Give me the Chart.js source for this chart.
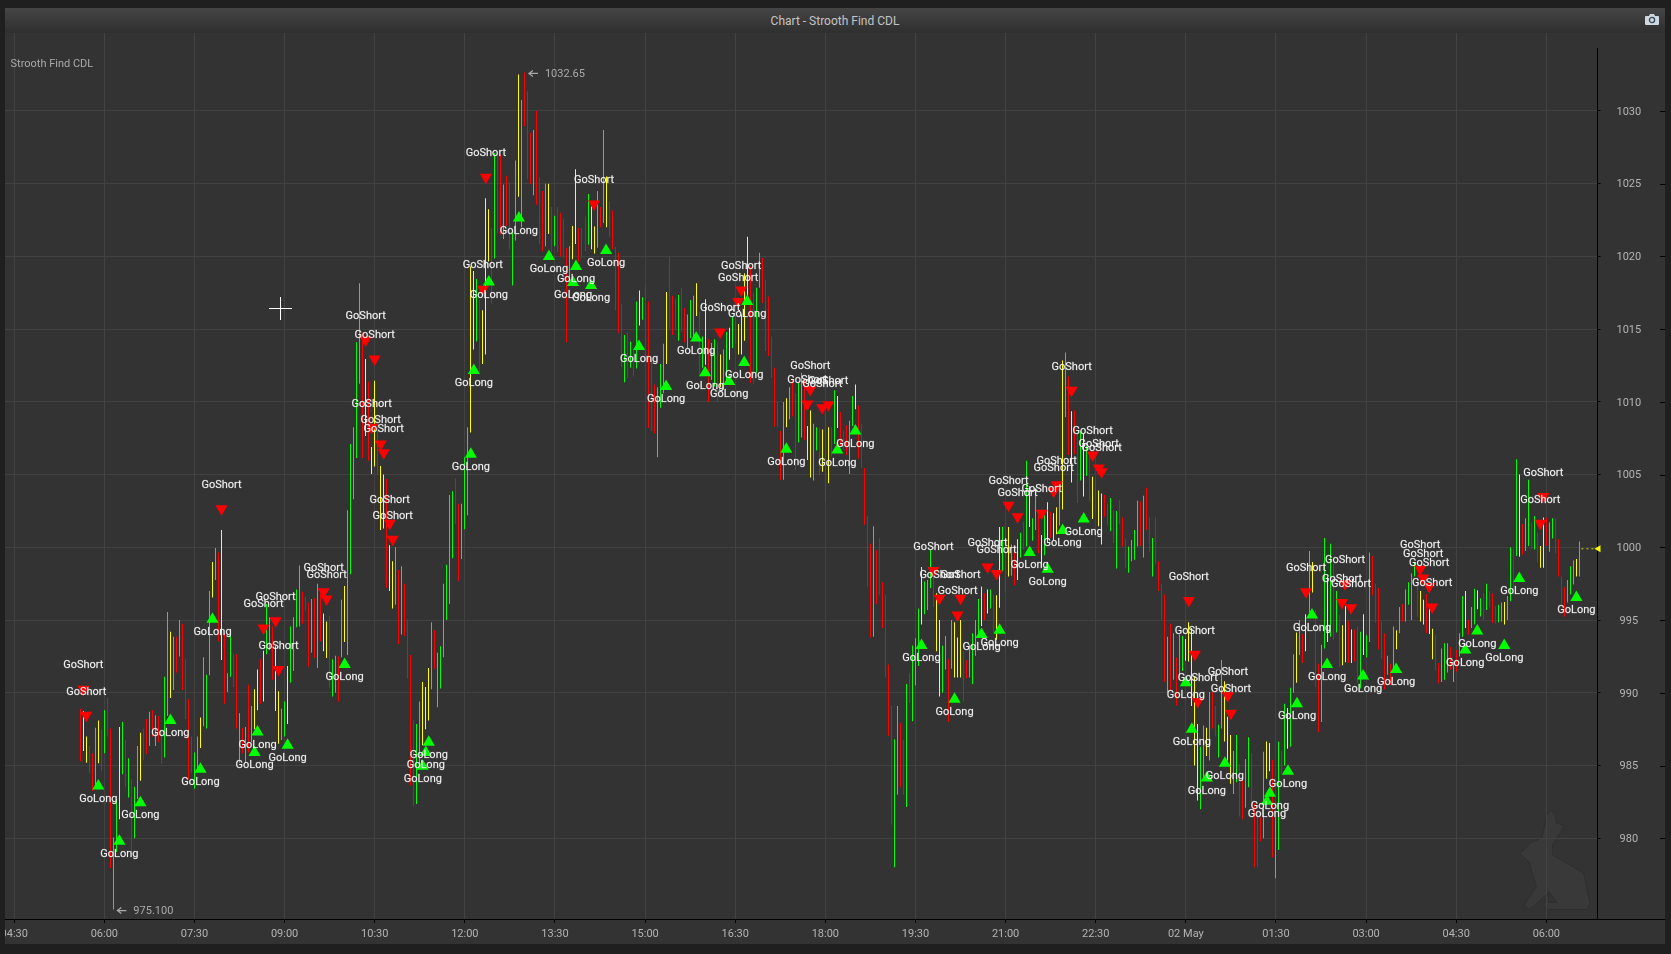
<!DOCTYPE html>
<html>
<head>
<meta charset="utf-8">
<title>Chart - Strooth Find CDL</title>
<script src="https://cdn.jsdelivr.net/npm/chart.js@4/dist/chart.umd.min.js"></script>
<style>
    html, body { margin: 0; padding: 0; background: #1f1f1f; overflow: hidden; }
    #panel { position: absolute; left: 5px; top: 8px; width: 1660px; height: 936px; background: #333333; }
    #header {
        position: absolute; left: 0; top: 0; width: 100%; height: 25px; line-height: 26px;
        background: linear-gradient(#454545, #2f2f2f);
        color: #c4c4c4; font: 12px Roboto, sans-serif; text-align: center;
    }
    #header span { line-height: 26px; }
    #camera { position: absolute; right: 6px; top: 5px; }
    #rabbit { position: absolute; left: 1511.67px; top: 800.33px; }
    #chart { position: absolute; left: 0; top: 25px; }
    #name { position: absolute; left: 5.5px; top: 49px; color: #aaaaaa; font: 11px Roboto, sans-serif; }
    .cross { position: absolute; background: #ffffff; }
</style>
</head>
<body>
<div id="panel">
    <div id="header"><span>Chart - Strooth Find CDL</span>
        <svg id="camera" width="14" height="13" viewBox="0 0 14 13">
            <path d="M1 3h3l1-2h4l1 2h3a1 1 0 0 1 1 1v7a1 1 0 0 1-1 1H1a1 1 0 0 1-1-1V4a1 1 0 0 1 1-1z" fill="#cfd8de"/>
            <circle cx="7" cy="7" r="2.6" fill="none" stroke="#34475a" stroke-width="1.3"/>
        </svg>
    </div>
    <svg id="rabbit" width="76.67" height="105" viewBox="650 175 230 315">
        <path d="M750 182 L765 190 L768 220 L793 228 L757 285 L755 315 L850 370 L862 430 L870 462 L858 480 L735 480 L730 465 L745 428 L700 470 L685 480 L672 465 L708 410 L685 335 L658 312 L690 280 L725 265 L740 195 Z"
              fill="#393939" stroke="#2e2e2e" stroke-width="3"/>
        <path d="M745 425 L770 458 L745 458 Z" fill="#333333" stroke="#2e2e2e" stroke-width="3"/>
    </svg>
    <canvas id="chart" width="1660" height="911"></canvas>
    <div id="name">Strooth Find CDL</div>
    <div class="cross" style="left:264px; top:300px; width:23px; height:1px;"></div>
    <div class="cross" style="left:275px; top:289px; width:1px; height:23px;"></div>
</div>
<script>
// price axis and time axis
const priceTicks = [980, 985, 990, 995, 1000, 1005, 1010, 1015, 1020, 1025, 1030];
const timeTicks = [270, 360, 450, 540, 630, 720, 810, 900, 990, 1080, 1170, 1260, 1350, 1440, 1530, 1620, 1710, 1800];
const timeLabels = ['04:30', '06:00', '07:30', '09:00', '10:30', '12:00', '13:30', '15:00', '16:30', '18:00', '19:30', '21:00', '22:30', '02 May', '01:30', '03:00', '04:30', '06:00'];

// first bar is 05:36, one bar every 3 minutes
const firstBarMinute = 336;
const barMinutes = 3;

const barColors = (
    'r y y r r g y r g r ' + 'r g g y g r g r g g ' + 'y r r g r g r r g g ' + 'y g r g r r r r g g ' + 'y g g g y g r y r g ' +
    'g r r g r g r g y y ' + 'r y g g r y y g g y ' + 'g g g g r r r g r g ' + 'r y y r g g r g y g ' + 'g g g g r y r y y r ' +
    'y y r y y g r g r r ' + 'r r g g y y y g r g ' + 'g g g g g r r g g g ' + 'y y g r y y y r g r ' + 'r g r r g g y g r r ' +
    'r g r r r g y r g r ' + 'r r r g y y r r r g ' + 'y y g r g y r r r r ' + 'r g r g r g y g r r ' + 'r r g g g y r r r g ' +
    'r r g g g y r g y r ' + 'g g r y g g y g r y ' + 'y y y r r g g r r r ' + 'r r r r g y g r r g ' + 'g r y y g g r y r y ' +
    'r g y r r r g g y r ' + 'r r r r g r r r r r ' + 'r g g r r g r g g g ' + 'y g g g r y y g g r ' + 'g y y y r r g g g g ' +
    'y r y g r y y g r y ' + 'g r y g r g y g g r ' + 'y g y r y y g y g r ' + 'y r r g y g r y r y ' + 'y r r g r g r r r g ' +
    'g g g r g r r g r r ' + 'r r g r g r g g y y ' + 'y y y g g y g r r g ' + 'g y y y g g r r g g ' + 'r r r r g y y r g g ' +
    'r g y g g y g r y g ' + 'y r r g g y g r g r ' + 'y y r y r r g y g g ' + 'r r r r r g r g y g ' + 'r g g g g r y y r y ' +
    'y r r g g g r g r g ' + 'g y r g g y g r g r ' + 'r r g g y g g r g y ' + 'r g g r g r y y r g ' + 'g r r r r g g g y g'
).split(' ');

const barHigh = [
    988.9, 988.75, 987.0, 986.35, 985.85, 987.6, 988.1, 987.5, 988.8, 989.65,
    987.55, 980.05, 982.7, 987.65, 988.0, 986.75, 985.5, 984.05, 983.55, 986.35,
    987.25, 987.55, 988.2, 988.7, 988.8, 988.45, 988.4, 987.4, 991.1, 995.55,
    994.2, 993.85, 993.85, 995.0, 994.75, 992.3, 989.55, 987.0, 985.9, 987.0,
    988.3, 992.45, 991.25, 997.0, 999.0, 999.95, 999.65, 1001.2, 994.1, 991.35,
    993.95, 992.65, 992.65, 988.6, 987.6, 987.65, 990.55, 989.1, 990.25, 991.6,
    992.3, 992.9, 996.1, 995.2, 994.55, 993.2, 990.1, 988.9, 989.4, 991.85,
    994.55, 995.2, 997.1, 998.75, 996.95, 996.6, 996.2, 996.45, 996.5, 997.5,
    996.85, 995.45, 994.9, 995.3, 992.3, 992.55, 992.5, 996.4, 997.35, 1002.55,
    1007.1, 1008.25, 1014.1, 1018.15, 1014.75, 1012.95, 1011.4, 1006.9, 1011.45, 1008.75,
    1005.6, 1005.0, 1004.7, 1000.15, 999.05, 1000, 998.45, 998.7, 997.5, 995.05,
    992.6, 988.1, 987.85, 989.4, 990.75, 990.4, 991.7, 994.85, 994.3, 992.75,
    993.2, 997.5, 998.8, 1003.6, 1003.85, 1004.75, 1003.0, 1003.0, 1006.2, 1008.25,
    1019.3, 1019.0, 1018.45, 1017.0, 1016.3, 1024.0, 1023.25, 1021.95, 1027.1, 1027.0,
    1027.0, 1024.95, 1025.55, 1025.1, 1021.7, 1026.6, 1032.5, 1030.75, 1032.65, 1031.35,
    1028.5, 1028.7, 1030.0, 1025.45, 1024.5, 1025.0, 1025.0, 1023.4, 1022.8, 1023.4,
    1023.0, 1022.6, 1020.6, 1020.7, 1022.1, 1026.0, 1021.95, 1021.95, 1022.75, 1024.3,
    1023.45, 1022.05, 1024.5, 1023.4, 1028.7, 1025.5, 1023.8, 1023.15, 1020.65, 1020.25,
    1016.75, 1014.6, 1014.75, 1014.15, 1013.65, 1016.9, 1017.65, 1017.2, 1017.95, 1016.9,
    1012.9, 1011.2, 1011.0, 1012.6, 1014.0, 1017.55, 1020.0, 1017.3, 1017.05, 1017.35,
    1017.85, 1016.45, 1016.0, 1017.0, 1017.3, 1018.15, 1016.2, 1014.5, 1017.05, 1014.3,
    1014.05, 1014.3, 1014.1, 1013.25, 1013.6, 1014.8, 1015.1, 1015.9, 1016.5, 1015.35,
    1016.0, 1018.85, 1021.35, 1019.3, 1017.5, 1017.85, 1020.25, 1019.9, 1018.4, 1017.25,
    1014.5, 1012.35, 1010.0, 1008.0, 1010.0, 1010.25, 1011.0, 1011.5, 1010.6, 1011.3,
    1012.0, 1011.45, 1008.35, 1009.4, 1008.5, 1008.25, 1008.2, 1008.1, 1009.3, 1008.25,
    1008.25, 1010.8, 1010.4, 1009.3, 1008.0, 1008.4, 1008.7, 1010.4, 1011.2, 1009.75,
    1008.5, 1005.45, 1002.15, 1000.25, 1001.45, 999.8, 1000.6, 997.6, 996.7, 991.95,
    989.1, 986.8, 989.1, 987.9, 986.75, 990.6, 991.35, 993.25, 993.75, 995.8,
    998.65, 997.65, 997.75, 999.85, 998.5, 996.85, 995.0, 993.25, 993.9, 992.3,
    995.0, 994.85, 993.8, 995.0, 992.85, 992.25, 993.3, 994.1, 995.0, 996.45,
    997.3, 996.85, 997.1, 997.1, 996.7, 996.7, 1001.4, 1001.4, 1001.4, 1001.4,
    1000.2, 1000.1, 1000.55, 1001.0, 1001.75, 1005.95, 1004.2, 1002.0, 1003.85, 1002.2,
    1000.85, 1002.2, 1003.1, 1002.45, 1002.35, 1002.75, 1003.9, 1012.85, 1013.4, 1011.75,
    1009.35, 1009.4, 1007.8, 1008.0, 1007.8, 1006.95, 1006.35, 1004.85, 1004.65, 1003.9,
    1003.7, 1003.6, 1003.0, 1003.4, 1002.55, 1002.5, 1003.25, 1002.05, 1000.55, 1000.05,
    1000.5, 1001.2, 1003.2, 1003.15, 1003.55, 1004.1, 1002.1, 1000.65, 1002.05, 999.05,
    997.5, 996.75, 993.85, 994.75, 994.1, 992.45, 994.0, 993.9, 993.7, 994.85,
    994.45, 991.15, 987.85, 986.3, 987.75, 987.6, 990.05, 990.05, 989.1, 987.8,
    992.25, 990.8, 988.35, 987.1, 986.0, 987.1, 985.1, 984.2, 985.45, 986.95,
    985.85, 982.4, 981.95, 981.45, 985.95, 986.65, 986.55, 985.4, 981.45, 986.65,
    986.0, 989.25, 988.95, 990.35, 992.65, 994.15, 995.0, 994.05, 995.4, 999.75,
    999.0, 995.7, 992.0, 993.3, 1000.65, 998.0, 1000.25, 998.85, 997.0, 995.35,
    994.65, 995.95, 994.95, 994.35, 994.35, 994.55, 994.2, 995.4, 993.95, 999.65,
    999.4, 997.5, 997.2, 994.9, 994.1, 992.55, 992.0, 994.55, 994.3, 995.9,
    996.1, 997.1, 997.6, 998.2, 998.95, 998.0, 997.0, 996.4, 996.8, 995.85,
    994.4, 993.95, 992.05, 993.05, 993.4, 993.4, 993.15, 992.15, 992.95, 994.1,
    996.65, 997.0, 995.0, 995.9, 997.15, 997.05, 996.5, 996.85, 997.5, 997.0,
    996.85, 995.95, 996.05, 996.2, 996.25, 996.65, 1000.0, 999.9, 1006.05, 1005.0,
    1001.6, 1002.0, 1004.65, 1001.7, 1002.15, 1001.0, 1000.1, 1002.05, 1002.05, 1001.7,
    1002.0, 1002.0, 1000.55, 998.0, 997.25, 997.75, 998.7, 999.1, 999.2, 1000.4
];

const barLow = [
    985.3, 986.0, 985.2, 984.5, 983.25, 983.4, 985.15, 984.6, 985.85, 987.0,
    977.95, 975.1, 979.05, 981.3, 984.4, 983.5, 982.8, 979.05, 980.0, 982.7,
    983.95, 985.4, 985.8, 986.35, 987.0, 986.35, 986.6, 985.1, 985.55, 988.4,
    989.65, 990.2, 991.4, 992.5, 990.2, 988.2, 984.05, 984.5, 983.4, 984.5,
    986.2, 987.7, 987.55, 991.2, 996.55, 997.75, 993.55, 992.25, 989.25, 990.05,
    991.1, 990.4, 987.55, 985.2, 985.85, 985.2, 985.9, 986.6, 987.5, 988.8,
    989.25, 989.4, 992.65, 992.95, 990.9, 988.75, 986.5, 986.75, 987.0, 987.85,
    990.7, 991.5, 994.5, 994.55, 994.75, 995.65, 991.8, 992.75, 992.4, 991.7,
    993.55, 992.85, 992.4, 990.35, 989.75, 990.0, 989.4, 992.45, 993.5, 992.6,
    998.15, 1003.3, 1006.15, 1011.25, 1006.15, 1007.65, 1005.95, 1005.05, 1005.55, 1005.0,
    1001.2, 1001.3, 997.2, 997.0, 995.8, 996.05, 993.35, 994.0, 993.9, 991.0,
    983.65, 982.2, 982.35, 984.85, 986.4, 987.5, 988.1, 990.25, 991.65, 989.0,
    990.3, 992.45, 995.0, 996.1, 999.25, 1001.6, 997.7, 999.2, 1001.25, 1002.2,
    1007.9, 1013.6, 1014.15, 1012.05, 1012.6, 1013.25, 1019.65, 1016.75, 1019.85, 1021.6,
    1021.5, 1021.2, 1022.1, 1020.5, 1018.0, 1021.1, 1024.1, 1022.0, 1028.95, 1025.3,
    1025.0, 1024.2, 1023.55, 1020.85, 1020.35, 1020.7, 1021.55, 1020.35, 1020.7, 1020.3,
    1020.0, 1019.95, 1014.1, 1018.2, 1019.8, 1020.85, 1019.65, 1019.9, 1020.35, 1020.8,
    1020.5, 1020.2, 1020.6, 1022.0, 1022.3, 1022.0, 1021.35, 1020.5, 1016.3, 1014.75,
    1012.4, 1011.35, 1011.65, 1012.35, 1011.75, 1012.3, 1015.25, 1015.65, 1012.8, 1008.2,
    1008.0, 1007.85, 1006.2, 1009.6, 1010.6, 1012.6, 1015.0, 1014.6, 1014.95, 1014.2,
    1014.8, 1014.1, 1013.7, 1014.4, 1014.5, 1015.9, 1011.75, 1012.35, 1012.55, 1010.0,
    1011.5, 1011.05, 1010.0, 1011.0, 1010.85, 1011.5, 1012.9, 1013.7, 1014.0, 1013.25,
    1013.25, 1014.2, 1017.05, 1011.3, 1011.25, 1012.0, 1017.85, 1016.8, 1013.5, 1013.15,
    1011.65, 1008.3, 1008.3, 1004.65, 1004.65, 1008.25, 1008.8, 1009.0, 1005.3, 1007.2,
    1007.55, 1007.4, 1006.0, 1004.8, 1004.6, 1006.65, 1004.95, 1005.2, 1003.15, 1004.4,
    1006.25, 1007.1, 1008.2, 1006.95, 1006.7, 1006.35, 1005.05, 1008.35, 1009.5, 1006.1,
    1005.45, 1001.55, 997.3, 993.8, 993.85, 996.1, 996.7, 994.45, 991.05, 987.05,
    980.95, 978.0, 983.0, 983.5, 983.0, 982.15, 989.3, 988.05, 990.5, 991.85,
    994.7, 995.4, 995.7, 997.2, 995.9, 992.85, 989.75, 990.0, 991.6, 988.0,
    991.65, 991.05, 991.05, 991.05, 989.4, 991.0, 991.05, 990.6, 992.55, 994.0,
    994.6, 995.0, 995.45, 995.8, 994.15, 993.65, 995.85, 998.35, 996.9, 998.0,
    998.05, 997.4, 997.75, 999.3, 999.85, 1000.05, 1001.4, 1000.45, 1001.2, 999.6,
    998.75, 999.45, 1000.3, 1000.65, 1000.5, 1000.9, 1001.5, 1002.6, 1008.95, 1006.35,
    1004.45, 1006.4, 1003.05, 1004.6, 1003.5, 1004.9, 1003.2, 1001.95, 1002.5, 1001.45,
    1000.2, 1002.1, 1001.5, 1001.1, 1000.3, 998.55, 1001.6, 1000.05, 998.6, 998.25,
    999.05, 999.15, 1000.05, 1000.1, 999.3, 1001.2, 999.7, 998.0, 998.85, 997.0,
    995.0, 990.75, 990.05, 990.15, 990.9, 989.15, 991.2, 991.5, 992.2, 992.15,
    989.1, 985.0, 982.6, 982.0, 984.0, 985.65, 985.35, 987.55, 987.0, 985.55,
    987.55, 986.65, 985.35, 983.75, 983.05, 983.85, 981.5, 981.3, 982.1, 983.5,
    982.2, 978.0, 978.0, 979.8, 980.0, 984.1, 984.6, 978.7, 977.25, 979.2,
    984.4, 985.0, 986.15, 986.3, 990.0, 990.7, 992.6, 992.05, 992.85, 995.5,
    996.9, 990.4, 987.3, 988.0, 993.05, 993.5, 993.85, 993.65, 994.15, 991.8,
    991.9, 992.1, 992.05, 992.05, 992.15, 990.65, 990.3, 992.6, 992.45, 993.5,
    996.7, 994.8, 993.0, 992.35, 990.25, 991.25, 990.55, 991.6, 993.0, 994.1,
    994.9, 994.9, 996.05, 995.0, 998.0, 995.25, 994.9, 994.7, 994.1, 994.05,
    992.3, 991.55, 990.65, 990.75, 990.9, 991.4, 991.6, 990.75, 991.45, 992.5,
    993.85, 994.45, 994.0, 994.45, 994.7, 995.75, 995.25, 995.0, 995.7, 995.85,
    994.8, 994.75, 994.85, 994.9, 994.7, 995.0, 996.3, 996.75, 999.4, 999.35,
    999.5, 999.75, 1000.1, 999.9, 999.85, 998.95, 998.6, 998.6, 1000.1, 999.7,
    1000.6, 999.6, 998.0, 996.05, 995.25, 996.2, 996.75, 997.45, 998.0, 998.0
];

// signal markers: bar number and price
const longBars = [6, 13, 20, 30, 40, 44, 58, 59, 69, 88, 114, 115, 116, 130, 131, 136, 146, 156, 164, 165, 170, 175, 186, 195, 205, 208, 216, 221, 222, 235, 252, 258, 280, 291, 300, 306, 316, 322, 327, 334, 368, 370, 375, 381, 395, 396, 402, 405, 410, 415, 427, 438, 461, 465, 474, 479, 498];
const longPrices = [983.6, 979.8, 982.45, 988.1, 984.75, 995.05, 985.9, 987.3, 986.4, 991.95, 984.95, 985.9, 986.6, 1006.4, 1012.15, 1018.25, 1022.65, 1020, 1018.2, 1019.3, 1018, 1020.4, 1013.8, 1011.05, 1014.4, 1012, 1011.4, 1012.7, 1016.9, 1006.75, 1006.7, 1008, 993.25, 989.55, 994, 994.3, 999.65, 998.5, 1001.15, 1001.95, 990.7, 987.5, 984.15, 985.15, 982.55, 983.1, 984.6, 989.25, 995.35, 991.95, 991.15, 991.6, 992.95, 994.25, 993.25, 997.85, 996.55];
const shortBars = [1, 2, 47, 61, 65, 66, 81, 82, 95, 97, 98, 100, 101, 103, 104, 134, 135, 171, 213, 219, 220, 242, 243, 247, 249, 284, 286, 292, 293, 302, 305, 309, 312, 320, 324, 325, 330, 337, 339, 340, 369, 371, 372, 382, 383, 408, 420, 421, 423, 446, 447, 449, 450, 486, 487];
const shortPrices = [990.25, 988.45, 1002.65, 994.45, 994.95, 991.6, 996.95, 996.45, 1014.25, 1008.25, 1012.95, 1007.1, 1006.5, 1001.65, 1000.55, 1017.75, 1025.45, 1023.6, 1014.8, 1016.9, 1017.7, 1009.85, 1010.85, 1009.6, 1009.8, 998.4, 996.5, 995.35, 996.5, 998.65, 998.2, 1002.9, 1002.1, 1002.35, 1003.85, 1004.3, 1010.8, 1006.35, 1005.45, 1005.2, 996.35, 992.65, 989.4, 989.8, 988.6, 996.95, 996.2, 997.5, 995.85, 998.5, 997.9, 997.3, 995.9, 1001.65, 1003.5];

const lastPrice = 999.9;
const maxBar = 148;
const minBar = 11;

const colorOf = { r: '#ff0000', g: '#00ff00', y: '#ffff00' };
const barMinute = i => firstBarMinute + i * barMinutes;
const uiFont = 'Roboto, sans-serif';

// snap the one pixel bars to whole pixels so they stay crisp
const crispBarsPlugin = {
    id: 'crispBars',
    beforeDatasetsDraw(chart) {
        chart.getDatasetMeta(0).data.forEach(bar => {
            bar.x = Math.floor(bar.x) + 0.5;
        });
    }
};

// everything the series can't draw by itself: labels, axis lines, high/low notes, last price
const overlayPlugin = {
    id: 'overlay',
    afterDatasetsDraw(chart) {
        const { ctx, chartArea, scales: { x, y }, width } = chart;
        ctx.save();

        // signal captions
        ctx.font = '11px ' + uiFont;
        ctx.textAlign = 'center';
        ctx.textBaseline = 'middle';
        ctx.fillStyle = '#f4f4f4';
        ctx.strokeStyle = 'rgba(244,244,244,0.35)';
        ctx.lineWidth = 0.4;
        const caption = (text, px, py) => {
            ctx.fillText(text, px, py);
            ctx.strokeText(text, px, py);
        };
        longBars.forEach((b, i) => {
            caption('GoLong', x.getPixelForValue(barMinute(b)), y.getPixelForValue(longPrices[i]) + 13);
        });
        shortBars.forEach((b, i) => {
            caption('GoShort', x.getPixelForValue(barMinute(b)), y.getPixelForValue(shortPrices[i]) - 23.5);
        });

        // axis lines
        ctx.strokeStyle = '#000000';
        ctx.lineWidth = 1;
        ctx.beginPath();
        ctx.moveTo(Math.round(chartArea.right) + 0.5, 15);
        ctx.lineTo(Math.round(chartArea.right) + 0.5, chartArea.bottom);
        ctx.moveTo(0, Math.round(chartArea.bottom) + 0.5);
        ctx.lineTo(width, Math.round(chartArea.bottom) + 0.5);
        priceTicks.forEach(v => {
            const py = Math.round(y.getPixelForValue(v)) + 0.5;
            ctx.moveTo(width - 5, py);
            ctx.lineTo(width, py);
        });
        ctx.stroke();

        // high / low notes
        const note = (bar, price, text) => {
            const px = x.getPixelForValue(barMinute(bar));
            const py = y.getPixelForValue(price) + 1;
            ctx.strokeStyle = '#aaaaaa';
            ctx.lineWidth = 1.2;
            ctx.beginPath();
            ctx.moveTo(px + 13, py);
            ctx.lineTo(px + 4, py);
            ctx.moveTo(px + 8, py - 3);
            ctx.lineTo(px + 4, py);
            ctx.lineTo(px + 8, py + 3);
            ctx.stroke();
            ctx.fillStyle = '#aaaaaa';
            ctx.font = '11px ' + uiFont;
            ctx.textAlign = 'left';
            ctx.fillText(text, px + 20, py + 0.5);
        };
        note(maxBar, barHigh[maxBar], '1032.65');
        note(minBar, barLow[minBar], '975.100');

        // last price pointer
        const lastY = y.getPixelForValue(lastPrice);
        ctx.strokeStyle = '#d8d800';
        ctx.lineWidth = 1;
        ctx.setLineDash([2, 3]);
        ctx.beginPath();
        ctx.moveTo(x.getPixelForValue(barMinute(barHigh.length - 1)) + 2, lastY);
        ctx.lineTo(chartArea.right - 1, lastY);
        ctx.stroke();
        ctx.setLineDash([]);
        ctx.fillStyle = '#ffff00';
        ctx.beginPath();
        ctx.moveTo(chartArea.right - 2, lastY);
        ctx.lineTo(chartArea.right + 4, lastY - 3.5);
        ctx.lineTo(chartArea.right + 4, lastY + 3.5);
        ctx.closePath();
        ctx.fill();

        ctx.restore();
    }
};

const chart = new Chart(document.getElementById('chart'), {
    type: 'bar',
    plugins: [crispBarsPlugin, overlayPlugin],
    data: {
        datasets: [
            {
                type: 'bar',
                data: barHigh.map((h, i) => ({ x: barMinute(i), y: [barLow[i], h] })),
                backgroundColor: barColors.map(c => colorOf[c]),
                barThickness: 1,
                inflateAmount: 0,
                grouped: false,
                order: 2
            },
            {
                type: 'scatter',
                data: longBars.map((b, i) => ({ x: barMinute(b), y: longPrices[i] })),
                pointStyle: 'triangle',
                pointRadius: 7,
                backgroundColor: '#00ff00',
                borderWidth: 0,
                order: 1
            },
            {
                type: 'scatter',
                data: shortBars.map((b, i) => ({ x: barMinute(b), y: shortPrices[i] })),
                pointStyle: 'triangle',
                rotation: 180,
                pointRadius: 7,
                backgroundColor: '#ff0000',
                borderWidth: 0,
                order: 1
            }
        ]
    },
    options: {
        responsive: false,
        devicePixelRatio: 1,
        animation: false,
        events: [],
        layout: { padding: 0, autoPadding: false },
        plugins: { legend: { display: false }, title: { display: false }, tooltip: { enabled: false } },
        scales: {
            x: {
                type: 'linear',
                offset: false,
                min: 260.8,
                max: 1850.1,
                afterBuildTicks: s => { s.ticks = timeTicks.map(v => ({ value: v })); },
                afterFit: s => { s.height = 25; s.paddingLeft = 0; s.paddingRight = 0; },
                border: { display: false },
                grid: { offset: false, color: '#424242', lineWidth: 1, tickColor: '#000000', tickLength: 4 },
                ticks: {
                    autoSkip: false,
                    maxRotation: 0,
                    padding: 5,
                    color: '#b4b4b4',
                    font: { family: 'Roboto', size: 11 },
                    callback: v => timeLabels[timeTicks.indexOf(v)]
                }
            },
            y: {
                position: 'right',
                min: 974.45,
                max: 1035.36,
                afterBuildTicks: s => { s.ticks = priceTicks.map(v => ({ value: v })); },
                afterFit: s => { s.width = 68.5; s.paddingTop = 0; s.paddingBottom = 0; },
                border: { display: false },
                grid: { color: '#424242', lineWidth: 1, tickColor: '#000000', tickLength: 4 },
                ticks: {
                    padding: 16,
                    labelOffset: 1,
                    crossAlign: 'center',
                    color: '#b4b4b4',
                    font: { family: 'Roboto', size: 11 },
                    callback: v => String(v)
                }
            }
        }
    }
});
</script>
</body>
</html>
